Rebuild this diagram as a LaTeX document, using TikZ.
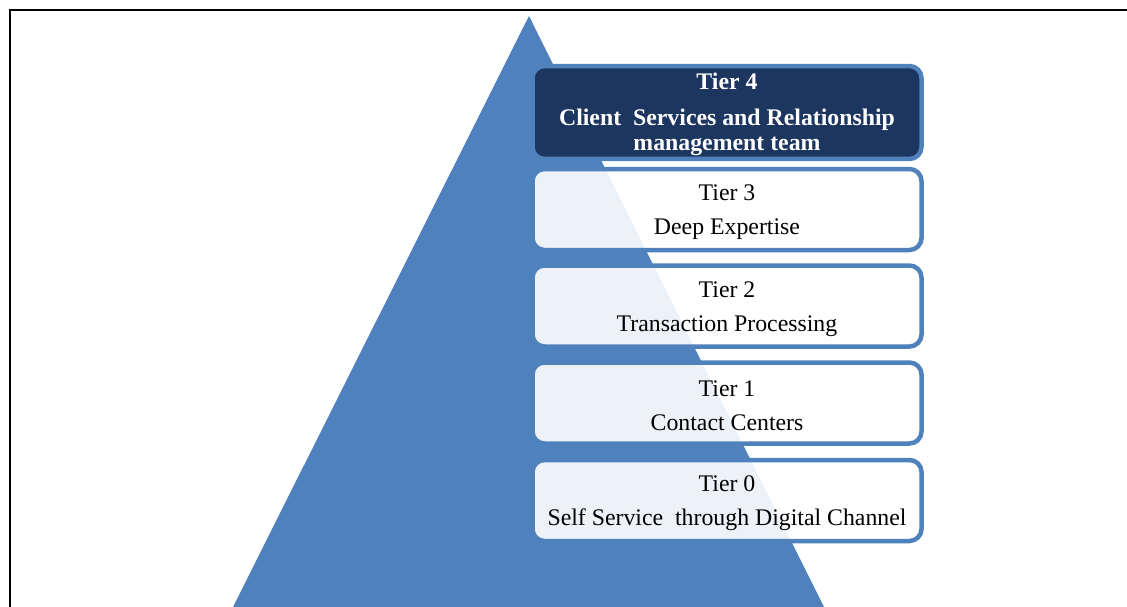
\documentclass[tikz,border=0pt]{standalone}
\usepackage{fontspec}
\setmainfont{Liberation Serif}
\definecolor{pyrblue}{RGB}{79,129,189}
\definecolor{navy}{RGB}{28,54,95}

\begin{document}
\begin{tikzpicture}[x=1pt,y=-1pt,
    tierbox/.style={draw=pyrblue,line width=4.5pt,rounded corners=12pt,fill=white,fill opacity=0.9,text opacity=1,
        minimum width=389pt,minimum height=81pt,align=center,font=\fontsize{23.8}{28}\selectfont},
    toptier/.style={tierbox,fill=navy,fill opacity=1,text=white,minimum height=84pt,font=\fontsize{23.8}{25}\selectfont\bfseries}]
        \useasboundingbox(0,0)rectangle(1127,607);
        \draw[line width=2pt](10,607)--(10,10)--(1127,10);
        \fill[pyrblue](529,16)--(824,607)--(233,607)--cycle;

        \node[toptier](tier4)at(727,112.5){\rule{0pt}{20pt}Tier 4\\[11pt]Client\ \ Services and Relationship\\management team};
        \foreach \n/\y/\txt in {3/209.5/Deep Expertise,2/306/Transaction Processing,1/403/Contact Centers,0/500.5/Self Service\ \ through Digital Channel}
            \node[tierbox](tier\n)at(727,\y){\rule{0pt}{22pt}Tier \n\\[6pt]\txt};
    \end{tikzpicture}
\end{document}
